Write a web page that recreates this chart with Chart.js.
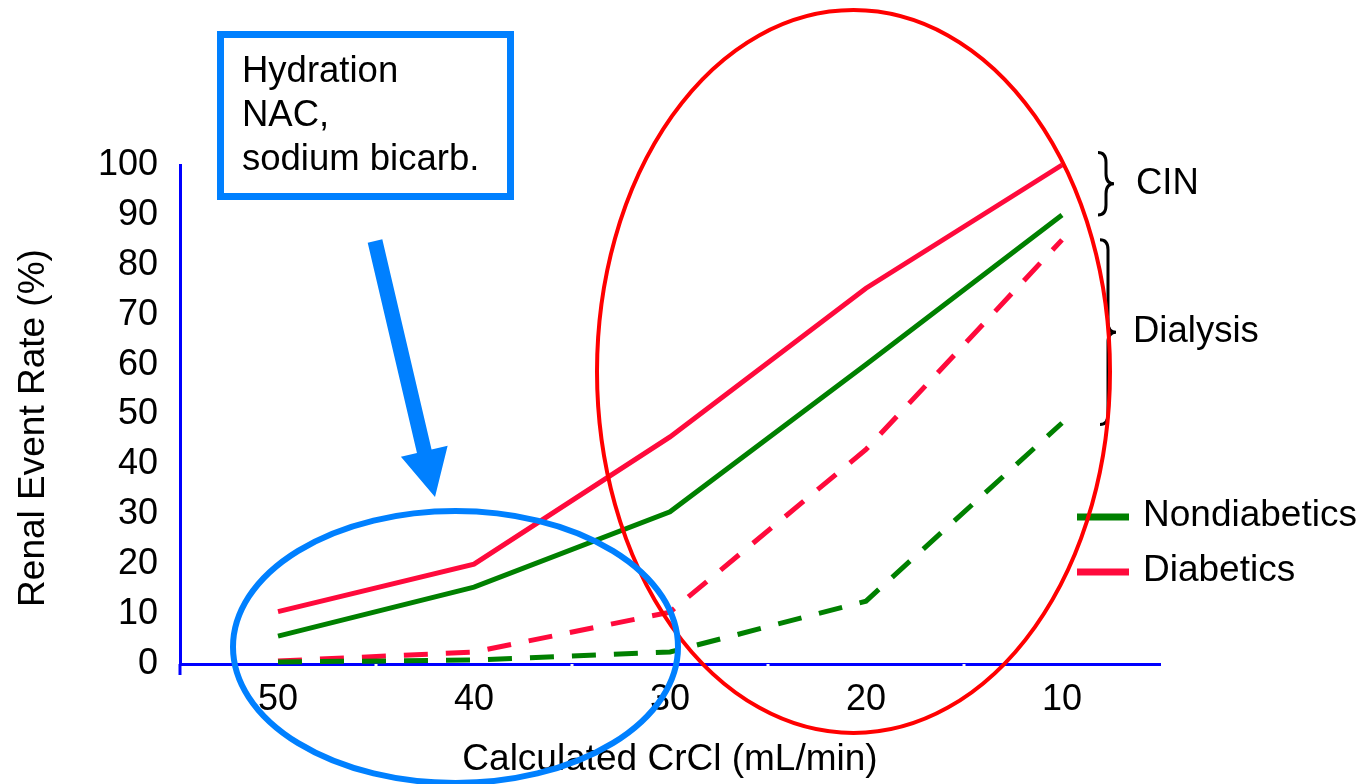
<!DOCTYPE html>
<html>
<head>
<meta charset="utf-8">
<script src="https://cdn.jsdelivr.net/npm/chart.js@4.4.1/dist/chart.umd.min.js"></script>
<style>
  html, body { margin: 0; padding: 0; background: #ffffff; }
  #wrap { width: 1366px; height: 784px; position: relative; }
</style>
</head>
<body>
<div id="wrap"><canvas id="c" width="1366" height="784"></canvas></div>
<script>
// ---- data ----
const categories = ['50', '40', '30', '20', '10'];
const diabeticsCIN = [10.5, 20, 45.5, 75.3, 100];
const nondiabeticsCIN = [5.6, 15.4, 30.5, 60, 90];
const diabeticsDialysis = [0.6, 2.4, 10.4, 43, 85];
const nondiabeticsDialysis = [0.4, 0.8, 2.4, 12.6, 48.3];
const yTicks = [0, 10, 20, 30, 40, 50, 60, 70, 80, 90, 100];
const legendLabels = ['Nondiabetics', 'Diabetics'];
const boxLines = ['Hydration', 'NAC,', 'sodium bicarb.'];
const braceLabels = ['CIN', 'Dialysis'];
const braceRanges = [[102.5, 90], [85, 48]];
const yTitle = 'Renal Event Rate (%)';
const xTitle = 'Calculated CrCl (mL/min)';

const GREEN = '#008000';
const RED = '#ff0a3c';
const AXIS_BLUE = '#0000ff';
const LIGHT_BLUE = '#0080ff';
const FONT = '"Liberation Sans", Arial, Helvetica, sans-serif';

Chart.defaults.font.family = FONT;
Chart.defaults.color = '#000000';

function drawBrace(ctx, x, y1, y2, w) {
  const ym = (y1 + y2) / 2;
  const r = Math.min(10, (y2 - y1) / 4);
  const xm = x + w / 2;
  ctx.beginPath();
  ctx.moveTo(x, y1);
  ctx.quadraticCurveTo(xm, y1, xm, y1 + r);
  ctx.lineTo(xm, ym - r);
  ctx.quadraticCurveTo(xm, ym, x + w, ym);
  ctx.quadraticCurveTo(xm, ym, xm, ym + r);
  ctx.lineTo(xm, y2 - r);
  ctx.quadraticCurveTo(xm, y2, x, y2);
  ctx.stroke();
}

const decor = {
  id: 'decor',
  afterDatasetsDraw(chart) {
    const ctx = chart.ctx;
    const xs = chart.scales.x, ys = chart.scales.y;
    const area = chart.chartArea;
    ctx.save();

    // y axis extension below x axis
    ctx.strokeStyle = AXIS_BLUE;
    ctx.lineWidth = 3;
    ctx.beginPath();
    ctx.moveTo(area.left, area.bottom);
    ctx.lineTo(area.left, area.bottom + 11);
    ctx.stroke();

    // small white tick marks on x axis at category boundaries
    ctx.fillStyle = '#ffffff';
    for (let i = 0; i < categories.length - 1; i++) {
      const px = xs.getPixelForValue(i + 0.5);
      ctx.fillRect(px - 1.5, area.bottom, 3, 2.5);
    }

    // y axis title
    ctx.save();
    ctx.translate(34, 428);
    ctx.rotate(-Math.PI / 2);
    ctx.font = '37px ' + FONT;
    ctx.textAlign = 'center';
    ctx.textBaseline = 'middle';
    ctx.fillStyle = '#000000';
    ctx.fillText(yTitle, 0, 0);
    ctx.restore();

    // legend
    const legendColors = [GREEN, RED];
    const legendY = [517, 572];
    ctx.font = '37px ' + FONT;
    ctx.textBaseline = 'middle';
    ctx.textAlign = 'left';
    legendLabels.forEach((lab, i) => {
      ctx.strokeStyle = legendColors[i];
      ctx.lineWidth = 7;
      ctx.beginPath();
      ctx.moveTo(1077, legendY[i]);
      ctx.lineTo(1129, legendY[i]);
      ctx.stroke();
      ctx.fillStyle = '#000000';
      ctx.fillText(lab, 1143, legendY[i] - 1);
    });

    // braces
    ctx.font = '36.5px ' + FONT;
    ctx.strokeStyle = '#000000';
    ctx.lineWidth = 3;
    const braceX = [1098, 1100];
    const labelX = [1136, 1133];
    braceRanges.forEach((rg, i) => {
      const y1 = ys.getPixelForValue(rg[0]);
      const y2 = ys.getPixelForValue(rg[1]);
      drawBrace(ctx, braceX[i], y1, y2, 16);
      ctx.fillStyle = '#000000';
      ctx.fillText(braceLabels[i], labelX[i], (y1 + y2) / 2);
    });

    // text box
    ctx.strokeStyle = LIGHT_BLUE;
    ctx.lineWidth = 7;
    ctx.strokeRect(220.5, 34.5, 290, 162);
    ctx.fillStyle = '#000000';
    ctx.textBaseline = 'alphabetic';
    boxLines.forEach((t, i) => {
      ctx.fillText(t, 242, 82 + i * 44);
    });

    // arrow
    const sx = 375, sy = 241, tx = 435, ty = 497;
    const dx = tx - sx, dy = ty - sy;
    const len = Math.hypot(dx, dy);
    const ux = dx / len, uy = dy / len;
    const nx = -uy, ny = ux;
    const headLen = 47, headHalf = 24, shaftHalf = 7.5;
    const bx = tx - ux * headLen, by = ty - uy * headLen;
    ctx.fillStyle = LIGHT_BLUE;
    ctx.beginPath();
    ctx.moveTo(sx + nx * shaftHalf, sy + ny * shaftHalf);
    ctx.lineTo(bx + nx * shaftHalf, by + ny * shaftHalf);
    ctx.lineTo(bx + nx * headHalf, by + ny * headHalf);
    ctx.lineTo(tx, ty);
    ctx.lineTo(bx - nx * headHalf, by - ny * headHalf);
    ctx.lineTo(bx - nx * shaftHalf, by - ny * shaftHalf);
    ctx.lineTo(sx - nx * shaftHalf, sy - ny * shaftHalf);
    ctx.closePath();
    ctx.fill();

    // red ellipse
    ctx.strokeStyle = '#ff0000';
    ctx.lineWidth = 4;
    ctx.beginPath();
    ctx.ellipse(853.5, 371.5, 256.5, 361.5, 0, 0, Math.PI * 2);
    ctx.stroke();

    // blue ellipse
    ctx.strokeStyle = LIGHT_BLUE;
    ctx.lineWidth = 6;
    ctx.beginPath();
    ctx.ellipse(455.5, 647, 222.5, 136, 0, 0, Math.PI * 2);
    ctx.stroke();

    ctx.restore();
  }
};

const dash = [24, 18];
new Chart(document.getElementById('c'), {
  type: 'line',
  data: {
    labels: categories,
    datasets: [
      { label: 'Nondiabetics dialysis', data: nondiabeticsDialysis, borderColor: GREEN, borderWidth: 5, borderDash: dash, pointRadius: 0, tension: 0, clip: false, borderCapStyle: 'butt' },
      { label: 'Diabetics dialysis', data: diabeticsDialysis, borderColor: RED, borderWidth: 5, borderDash: dash, pointRadius: 0, tension: 0, clip: false, borderCapStyle: 'butt' },
      { label: 'Nondiabetics CIN', data: nondiabeticsCIN, borderColor: GREEN, borderWidth: 5, pointRadius: 0, tension: 0, clip: false },
      { label: 'Diabetics CIN', data: diabeticsCIN, borderColor: RED, borderWidth: 5, pointRadius: 0, tension: 0, clip: false }
    ]
  },
  options: {
    responsive: false,
    animation: false,
    events: [],
    layout: { padding: { top: 165, right: 206, bottom: 0, left: 0 } },
    plugins: { legend: { display: false }, tooltip: { enabled: false }, title: { display: false } },
    scales: {
      x: {
        type: 'category',
        offset: true,
        grid: { display: true, drawOnChartArea: false, drawTicks: false, color: 'rgba(0,0,0,0)' },
        border: { display: true, color: AXIS_BLUE, width: 3 },
        ticks: { font: { size: 36 }, color: '#000000', padding: 14, maxRotation: 0 },
        title: { display: true, text: xTitle, font: { size: 37 }, color: '#000000', padding: { top: 0, bottom: 2 } },
        afterFit(scale) { scale.height = 120; }
      },
      y: {
        min: 0, max: 100,
        afterBuildTicks(scale) { scale.ticks = yTicks.map(v => ({ value: v })); },
        grid: { display: true, drawOnChartArea: false, drawTicks: false, color: 'rgba(0,0,0,0)' },
        border: { display: true, color: AXIS_BLUE, width: 3 },
        ticks: { font: { size: 36 }, color: '#000000', padding: 22 },
        title: { display: false },
        afterFit(scale) { scale.width = 180; }
      }
    }
  },
  plugins: [decor]
});
</script>
</body>
</html>
